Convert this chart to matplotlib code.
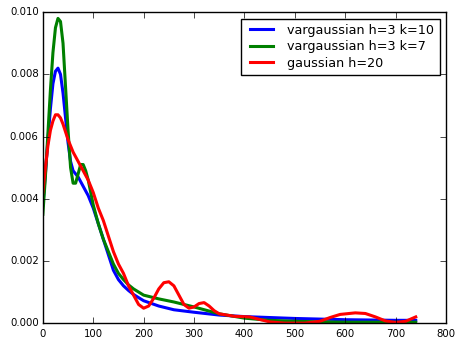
import numpy as np
import matplotlib
matplotlib.use('Agg')
import matplotlib.pyplot as plt
plt.style.use('classic')

# densidad estimada
x_k10 = [0, 5, 10, 15, 20, 25, 30, 35, 40, 45, 50, 55, 60, 70, 80, 90, 100, 110,
         120, 130, 140, 150, 160, 170, 180, 200, 230, 260, 300, 350, 400, 450, 500,
         550, 600, 650, 700, 740]
y_k10 = [0.0038, 0.0048, 0.0059, 0.0069, 0.0077, 0.0081, 0.0082, 0.0080, 0.0074,
         0.0066, 0.0058, 0.0052, 0.0049, 0.0047, 0.0044, 0.0041, 0.0037, 0.0032,
         0.0027, 0.0022, 0.0017, 0.0014, 0.0012, 0.00105, 0.00092, 0.00072,
         0.00055, 0.00043, 0.00035, 0.00026, 0.00021, 0.00018, 0.00015, 0.00013,
         0.00011, 0.00010, 0.00009, 0.00009]

x_k7 = [0, 5, 10, 15, 20, 25, 30, 35, 40, 45, 50, 55, 60, 65, 70, 75, 80, 85, 90,
        100, 110, 120, 130, 140, 150, 160, 170, 180, 200, 230, 260, 300, 350, 400,
        450, 500, 550, 600, 650, 700, 740]
y_k7 = [0.0035, 0.0047, 0.0061, 0.0075, 0.0087, 0.0095, 0.0098, 0.0097, 0.0090,
        0.0076, 0.0062, 0.0050, 0.0045, 0.0045, 0.0048, 0.0051, 0.0051, 0.0049,
        0.0046, 0.0038, 0.0032, 0.0027, 0.0023, 0.0019, 0.0016, 0.0014, 0.00123,
        0.0011, 0.0009, 0.00078, 0.00068, 0.00052, 0.00030, 0.00016, 0.00009,
        0.00006, 0.00004, 0.00003, 0.00003, 0.00003, 0.00003]

x_h20 = [0, 5, 10, 15, 20, 25, 30, 35, 40, 50, 60, 70, 80, 90, 100, 110, 120, 130,
         140, 150, 160, 170, 180, 190, 200, 210, 220, 230, 240, 250, 260, 270, 280,
         290, 300, 310, 320, 330, 340, 350, 380, 410, 430, 450, 480, 520, 550, 570,
         590, 620, 640, 660, 680, 700, 720, 740]
y_h20 = [0.0042, 0.0050, 0.0057, 0.0062, 0.0065, 0.0067, 0.0067, 0.0066, 0.0064,
         0.0059, 0.0055, 0.0052, 0.0049, 0.0046, 0.0042, 0.0037, 0.0033, 0.0028,
         0.0023, 0.0019, 0.0016, 0.0012, 0.0009, 0.0006, 0.00048, 0.00055, 0.0008,
         0.0011, 0.0013, 0.00133, 0.0012, 0.0009, 0.0006, 0.00048, 0.00052, 0.00063,
         0.00066, 0.00055, 0.0004, 0.0003, 0.00022, 0.0002, 0.00012, 0.00004, 0.0,
         0.0, 0.00006, 0.00018, 0.00028, 0.00033, 0.00031, 0.0002, 0.00007, 0.00002,
         0.00006, 0.0002]

fig = plt.figure(figsize=(4.56, 3.38), dpi=100, facecolor='white')
ax = fig.add_axes([0.094, 0.044, 0.884, 0.92])

ax.plot(x_k10, y_k10, '-', color='blue', lw=2.2, label='vargaussian h=3 k=10')
ax.plot(x_k7, y_k7, '-', color='green', lw=2.2, label='vargaussian h=3 k=7')
ax.plot(x_h20, y_h20, '-', color='red', lw=2.2, label='gaussian h=20')

ax.set_xlim(0, 800)
ax.set_ylim(0, 0.010)
ax.set_yticks([0, 0.002, 0.004, 0.006, 0.008, 0.010])
ax.set_yticklabels(['0.000', '0.002', '0.004', '0.006', '0.008', '0.010'])
ax.tick_params(labelsize=7.3)
ax.tick_params(axis='y', pad=3)
ax.tick_params(axis='x', pad=4)
ax.legend(loc='upper right', fontsize=9.2, labelspacing=0.28, borderpad=0.4,
          handlelength=2.4, handletextpad=0.8)

fig.savefig('out.png', dpi=100, facecolor='white')
